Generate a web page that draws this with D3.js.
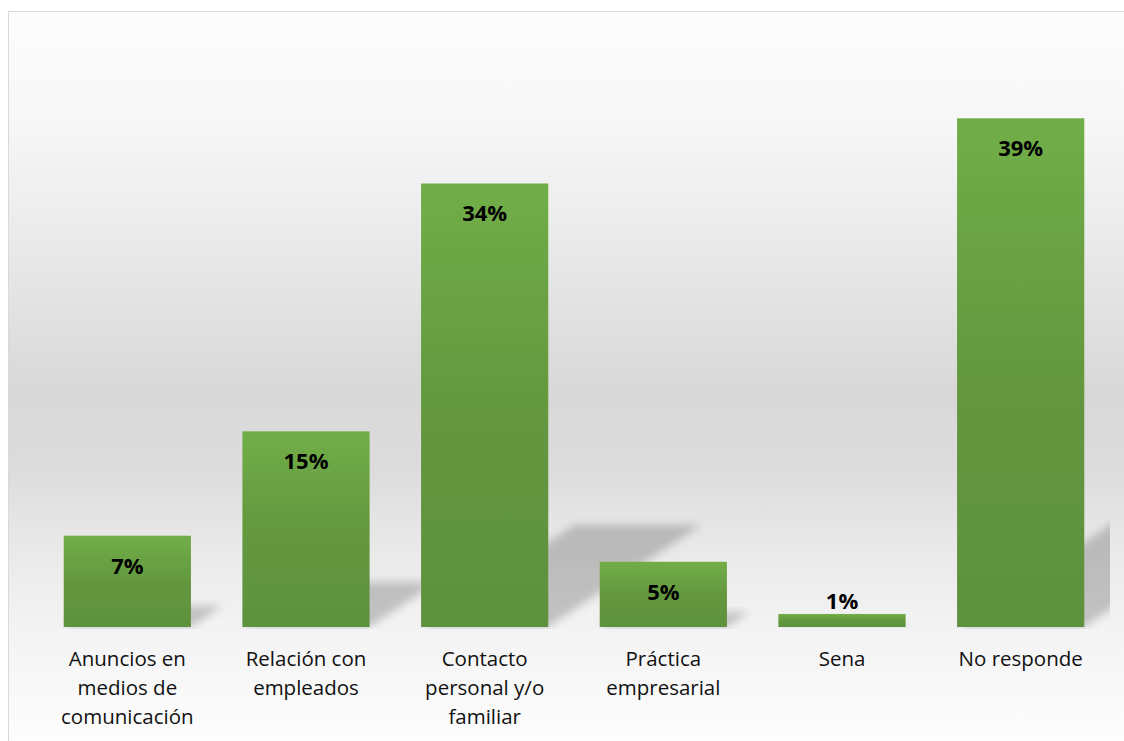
<!DOCTYPE html>
<html>
<head>
<meta charset="utf-8">
<script src="https://cdn.jsdelivr.net/npm/d3@7"></script>
<style>
  html, body { margin: 0; padding: 0; background: #ffffff; }
  svg { display: block; }
</style>
</head>
<body>
<svg id="chart" width="1124" height="741"></svg>
<script>
// ---- data ----
const categories = [
  "Anuncios en\nmedios de\ncomunicación",
  "Relación con\nempleados",
  "Contacto\npersonal y/o\nfamiliar",
  "Práctica\nempresarial",
  "Sena",
  "No responde"
];
const values = [7, 15, 34, 5, 1, 39];
const valueLabels = ["7%", "15%", "34%", "5%", "1%", "39%"];

// ---- layout ----
const W = 1124, H = 741;
const plot = { left: 38, right: 1110, top: 40, bottom: 627 };
const svg = d3.select("#chart");
const defs = svg.append("defs");

// chart background gradient
const bg = defs.append("linearGradient").attr("id", "bgGrad")
  .attr("gradientUnits", "userSpaceOnUse")
  .attr("x1", 0).attr("x2", 0).attr("y1", 11).attr("y2", 741);
[[0, "#fdfdfd"], [0.149, "#f7f7f7"], [0.327, "#e9e9e9"], [0.519, "#d8d8d8"],
 [0.629, "#dcdcdc"], [0.725, "#e8e8e8"], [0.844, "#f3f3f3"], [1, "#fdfdfd"]]
  .forEach(([o, c]) => bg.append("stop").attr("offset", o).attr("stop-color", c));

// bar gradient
const bgBar = defs.append("linearGradient").attr("id", "barGrad")
  .attr("x1", 0).attr("x2", 0).attr("y1", 0).attr("y2", 1);
bgBar.append("stop").attr("offset", 0).attr("stop-color", "#71ae48");
bgBar.append("stop").attr("offset", 0.5).attr("stop-color", "#64983f");
bgBar.append("stop").attr("offset", 1).attr("stop-color", "#5e913d");

const blur = defs.append("filter").attr("id", "shBlur")
  .attr("x", "-30%").attr("y", "-30%").attr("width", "160%").attr("height", "160%");
blur.append("feGaussianBlur").attr("stdDeviation", 4);

defs.append("clipPath").attr("id", "plotClip")
  .append("rect").attr("x", plot.left).attr("y", plot.top)
  .attr("width", plot.right - plot.left).attr("height", plot.bottom - plot.top + 2);

// background + border
svg.append("rect").attr("x", 0).attr("y", 0).attr("width", W).attr("height", H).attr("fill", "#ffffff");
svg.append("rect").attr("x", 8.5).attr("y", 11.5).attr("width", W + 20).attr("height", H + 20)
  .attr("fill", "url(#bgGrad)").attr("stroke", "#d9d9d9").attr("stroke-width", 1);

// scales
const x = d3.scaleBand().domain(categories).range([plot.left, plot.right])
  .paddingInner(0.288).paddingOuter(0.144);
const y = d3.scaleLinear().domain([0, 45]).range([plot.bottom, plot.top]);

const data = categories.map((c, i) => ({ c, v: values[i], label: valueLabels[i] }));

// perspective shadows
const shadowScale = 0.23, skew = 1.5;
svg.append("g").attr("clip-path", "url(#plotClip)")
  .selectAll("path").data(data).join("path")
  .attr("d", d => {
    const x0 = x(d.c), x1 = x0 + x.bandwidth();
    const hs = (y(0) - y(d.v)) * shadowScale;
    const b = y(0);
    return `M${x0},${b} L${x1},${b} L${x1 + skew * hs},${b - hs} L${x0 + skew * hs},${b - hs} Z`;
  })
  .attr("fill", "#000").attr("fill-opacity", 0.2)
  .attr("filter", "url(#shBlur)");

// bars
svg.append("g").selectAll("rect").data(data).join("rect")
  .attr("x", d => x(d.c)).attr("width", x.bandwidth())
  .attr("y", d => y(d.v)).attr("height", d => y(0) - y(d.v))
  .attr("fill", "url(#barGrad)");

// value labels
svg.append("g").selectAll("text").data(data).join("text")
  .attr("x", d => x(d.c) + x.bandwidth() / 2)
  .attr("y", d => (y(0) - y(d.v)) < 30 ? y(d.v) - 5 : y(d.v) + 38)
  .attr("text-anchor", "middle")
  .attr("font-family", "'Open Sans', sans-serif")
  .attr("font-weight", "bold").attr("font-size", 22)
  .attr("fill", "#000")
  .text(d => d.label);

// x axis with wrapped labels
const axis = svg.append("g").attr("transform", `translate(0,${plot.bottom})`)
  .call(d3.axisBottom(x).tickSize(0).tickPadding(0));
axis.select(".domain").remove();
axis.selectAll(".tick text").each(function(d) {
  const t = d3.select(this);
  t.text(null).attr("y", 0).attr("dy", null)
    .attr("font-family", "'Open Sans', sans-serif").attr("font-size", 20.5)
    .attr("fill", "#111");
  d.split("\n").forEach((line, i) => {
    t.append("tspan").attr("x", 0).attr("y", 39 + i * 29).text(line);
  });
});
</script>
</body>
</html>
